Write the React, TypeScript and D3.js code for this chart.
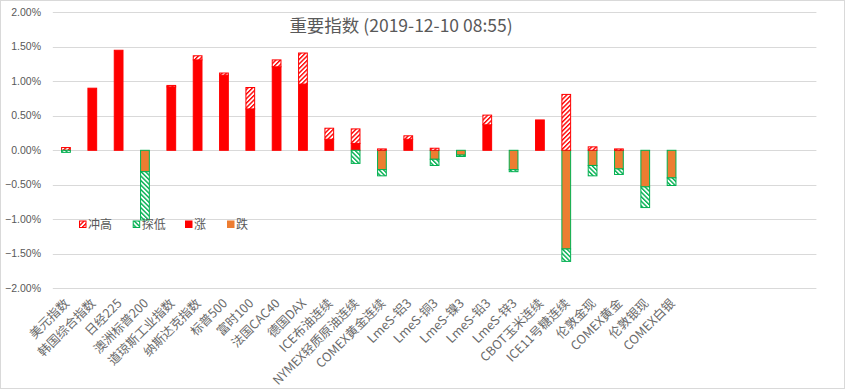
import { useEffect, useRef } from "react";
import * as d3 from "d3";

// categories (x axis)
const categories = [
  "美元指数", "韩国综合指数", "日经225", "澳洲标普200", "道琼斯工业指数", "纳斯达克指数",
  "标普500", "富时100", "法国CAC40", "德国DAX", "ICE布油连续", "NYMEX轻质原油连续",
  "COMEX黄金连续", "LmeS-铝3", "LmeS-铜3", "LmeS-镍3", "LmeS-铅3", "LmeS-锌3",
  "CBOT玉米连续", "ICE11号糖连续", "伦敦金现", "COMEX黄金", "伦敦银现", "COMEX白银",
];
// empty slots Excel kept at the right end of the axis
const emptySlots = 5;

// series values, in percent
const riseVals = [0, 0.9, 1.45, 0, 0.92, 1.31, 1.09, 0.6, 1.21, 0.96, 0.16, 0.1, 0, 0.16, 0, 0, 0.37, 0, 0.44, 0, 0, 0, 0, 0];
const fallVals = [0, 0, 0, -0.31, 0, 0, 0, 0, 0, 0, 0, 0, -0.28, 0, -0.13, -0.07, 0, -0.28, 0, -1.43, -0.22, -0.27, -0.53, -0.4];
const highVals = [0.04, 0, 0, 0, 0.02, 0.06, 0.03, 0.31, 0.1, 0.45, 0.16, 0.21, 0.02, 0.05, 0.03, 0, 0.14, 0, 0, 0.81, 0.05, 0.02, 0, 0];
const lowVals = [-0.03, 0, 0, -0.7, 0, 0, 0, 0, 0, 0, 0, -0.19, -0.09, 0, -0.09, -0.02, 0, -0.03, 0, -0.18, -0.15, -0.08, -0.3, -0.11];

const yTicks = [2, 1.5, 1, 0.5, 0, -0.5, -1, -1.5, -2];
const titleText = "重要指数 (2019-12-10 08:55)";

const legendItems = [
  { key: "high", label: "冲高" },
  { key: "low", label: "探低" },
  { key: "rise", label: "涨" },
  { key: "fall", label: "跌" },
];

const App = () => {
  const ref = useRef<SVGSVGElement>(null);

  useEffect(() => {
    document.body.style.margin = "0";
    draw();
  }, []);

  const draw = () => {
    const width = 845;
    const height = 389;
    const plot = { left: 52.8, right: 816.4, top: 12.3, bottom: 288.3 };
    const grey = "#595959";
    const red = "#FF0000";
    const green = "#00B050";
    const orange = "#ED7D31";
    const font = "'Noto Sans CJK SC', 'Open Sans', sans-serif";

    const svg = d3.select(ref.current).attr("width", width).attr("height", height);
    svg.selectAll("*").remove();

    // hatch patterns
    const defs = svg.append("defs");
    const hatch = (id: string, color: string, angle: number) => {
      const p = defs
        .append("pattern")
        .attr("id", id)
        .attr("patternUnits", "userSpaceOnUse")
        .attr("width", 3.2)
        .attr("height", 3.2)
        .attr("patternTransform", `rotate(${angle})`);
      p.append("rect").attr("width", 3.2).attr("height", 3.2).attr("fill", "#fff");
      p.append("rect").attr("width", 1.4).attr("height", 3.2).attr("fill", color);
    };
    hatch("hatch-high", red, 45);
    hatch("hatch-low", green, -45);

    const fills: Record<string, string> = {
      rise: red,
      fall: orange,
      high: "url(#hatch-high)",
      low: "url(#hatch-low)",
    };
    const strokes: Record<string, string> = { rise: red, fall: green, high: red, low: green };

    // outer border
    svg
      .append("rect")
      .attr("x", 0.5)
      .attr("y", 0.5)
      .attr("width", width - 1)
      .attr("height", height - 1)
      .attr("fill", "#fff")
      .attr("stroke", "#D9D9D9");

    const slots = d3.range(categories.length + emptySlots);
    const xScale = d3
      .scaleBand<number>()
      .domain(slots)
      .range([plot.left, plot.right])
      .paddingInner(0.63)
      .paddingOuter(0.315);

    const yScale = d3.scaleLinear().domain([-2, 2]).range([plot.bottom, plot.top]);

    // grid lines
    svg
      .append("g")
      .selectAll("line")
      .data(yTicks)
      .join("line")
      .attr("x1", plot.left)
      .attr("x2", plot.right)
      .attr("y1", (d) => Math.round(yScale(d)) + 0.5)
      .attr("y2", (d) => Math.round(yScale(d)) + 0.5)
      .attr("stroke", "#D9D9D9")
      .attr("stroke-width", 1);

    // y tick labels
    svg
      .append("g")
      .selectAll("text")
      .data(yTicks)
      .join("text")
      .attr("x", 41)
      .attr("y", (d) => yScale(d))
      .attr("dy", "0.35em")
      .attr("text-anchor", "end")
      .attr("fill", grey)
      .style("font-family", "'Liberation Sans', sans-serif")
      .style("font-size", "10.5px")
      .text((d) => d3.format(".2f")(d) + "%");

    // stacked data
    const rows = categories.map((name, i) => ({
      idx: i,
      rise: riseVals[i],
      fall: fallVals[i],
      high: highVals[i],
      low: lowVals[i],
    }));
    const keys = ["rise", "fall", "high", "low"];
    const stacked = d3
      .stack<any>()
      .keys(keys)
      .offset(d3.stackOffsetDiverging)(rows);

    const barW = xScale.bandwidth();
    stacked.forEach((layer) => {
      svg
        .append("g")
        .selectAll("rect")
        .data(layer.filter((d) => Math.abs(d[1] - d[0]) > 0))
        .join("rect")
        .attr("x", (d) => (xScale(d.data.idx) as number) + 0.5)
        .attr("y", (d) => yScale(Math.max(d[0], d[1])))
        .attr("width", barW - 1)
        .attr("height", (d) => Math.abs(yScale(d[0]) - yScale(d[1])))
        .attr("fill", fills[layer.key])
        .attr("stroke", strokes[layer.key])
        .attr("stroke-width", 1);
    });

    // x labels
    svg
      .append("g")
      .selectAll("text")
      .data(categories)
      .join("text")
      .attr("transform", (d, i) => {
        const cx = (xScale(i) as number) + barW / 2;
        return `translate(${cx + 1},${301}) rotate(-45)`;
      })
      .attr("text-anchor", "end")
      .attr("dy", "0.35em")
      .attr("fill", "#6a6a6a")
      .style("font-family", font)
      .style("font-size", "12.5px")
      .text((d) => d);

    // legend
    const legendX = [79, 132.7, 185, 227];
    const lg = svg
      .append("g")
      .selectAll("g")
      .data(legendItems)
      .join("g")
      .attr("transform", (d, i) => `translate(${legendX[i]},220.5)`);
    lg.append("rect")
      .attr("x", 0.5)
      .attr("y", 0.5)
      .attr("width", 6.5)
      .attr("height", 6.5)
      .attr("fill", (d) => fills[d.key])
      .attr("stroke", (d) => (d.key === "fall" ? orange : strokes[d.key]));
    lg.append("text")
      .attr("x", 9)
      .attr("y", 4)
      .attr("dy", "0.35em")
      .attr("fill", grey)
      .style("font-family", font)
      .style("font-size", "12px")
      .text((d) => d.label);

    // title
    svg
      .append("text")
      .attr("x", 401)
      .attr("y", 32)
      .attr("text-anchor", "middle")
      .attr("fill", grey)
      .style("font-family", font)
      .style("font-size", "17.5px")
      .text(titleText);
  };

  return (
    <div>
      <svg ref={ref} style={{ display: "block" }}></svg>
    </div>
  );
};

export default App;
